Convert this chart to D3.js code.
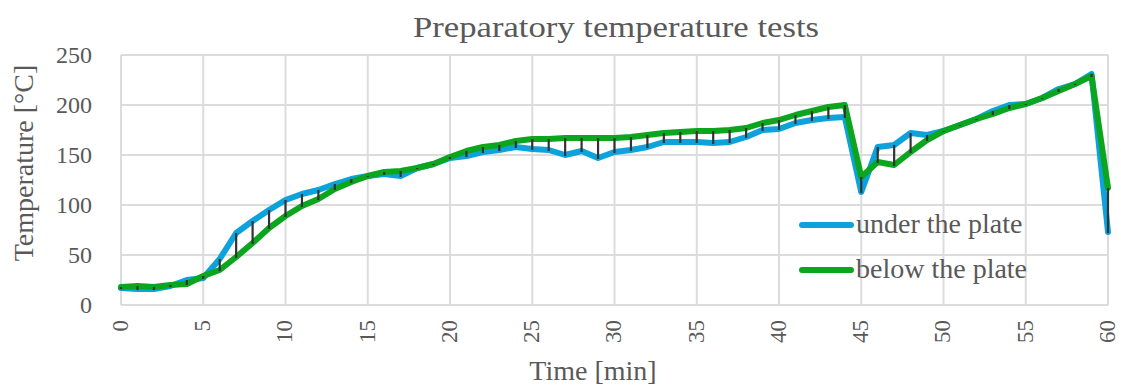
<!DOCTYPE html>
<html>
<head>
<meta charset="utf-8">
<script src="https://cdn.jsdelivr.net/npm/d3@7"></script>
<style>
  body { margin: 0; background: #fff; }
  svg text { font-family: "Liberation Serif", "Times New Roman", serif; fill: #595959; }
</style>
</head>
<body>
<svg id="chart" width="1121" height="392"></svg>
<script>
// minutes 0..60
const minutes = d3.range(0, 61);
const underPlate = [17,16,16,19,25,27,46,72,84,95,105,111,115,121,126,129,131,129,137,141,
  147,149,153,155,158,156,155,150,154,147,153,155,158,163,163,163,162,163,168,175,
  176,182,185,187,188,113,158,160,172,170,174,180,186,194,200,201,207,216,221,231,73];
const belowPlate = [18,19,18,20,21,29,35,48,62,77,89,99,106,116,123,129,133,134,137,141,
  148,154,158,160,164,166,166,167,167,167,167,168,170,172,173,174,174,175,177,182,
  185,190,194,198,200,128,143,140,153,165,174,180,186,191,197,201,207,214,221,229,117];
const xTicks = d3.range(0, 61, 5);
const yTicks = [0, 50, 100, 150, 200, 250];
const seriesNames = ["under the plate", "below the plate"];
const seriesColors = ["#0ca3dc", "#0ba61e"];

const svg = d3.select("#chart");
const x = d3.scaleLinear().domain([0, 60]).range([121, 1108]);
const y = d3.scaleLinear().domain([0, 250]).range([305, 55]);

// grid
svg.append("g").selectAll("line")
  .data(yTicks).enter().append("line")
  .attr("x1", x(0)).attr("x2", x(60))
  .attr("y1", d => y(d)).attr("y2", d => y(d))
  .attr("stroke", "#dcdcdc").attr("stroke-width", 2);
svg.append("g").selectAll("line")
  .data(xTicks).enter().append("line")
  .attr("x1", d => x(d)).attr("x2", d => x(d))
  .attr("y1", y(0)).attr("y2", y(250))
  .attr("stroke", "#dcdcdc").attr("stroke-width", 2);

// y tick labels
svg.append("g").selectAll("text")
  .data(yTicks).enter().append("text")
  .attr("x", 92).attr("y", d => y(d)).attr("dy", "0.35em")
  .attr("text-anchor", "end").attr("font-size", 24)
  .text(d => d);

// x tick labels (rotated)
svg.append("g").selectAll("text")
  .data(xTicks).enter().append("text")
  .attr("transform", d => `translate(${x(d)},320) rotate(-90)`)
  .attr("dy", "0.3em").attr("text-anchor", "end").attr("font-size", 23)
  .text(d => d);

// series lines
const line = d3.line().x((d, i) => x(minutes[i])).y(d => y(d));
[underPlate, belowPlate].forEach((s, k) => {
  svg.append("path")
    .datum(s)
    .attr("d", line)
    .attr("fill", "none")
    .attr("stroke", seriesColors[k])
    .attr("stroke-width", 6)
    .attr("stroke-linejoin", "round")
    .attr("stroke-linecap", "round");
});

// high-low drop lines
svg.append("g").selectAll("line")
  .data(minutes).enter().append("line")
  .attr("x1", d => x(d)).attr("x2", d => x(d))
  .attr("y1", (d, i) => y(Math.max(underPlate[i], belowPlate[i])))
  .attr("y2", (d, i) => y(Math.min(underPlate[i], belowPlate[i])) + 1)
  .attr("stroke", "#333").attr("stroke-width", 2.2);

// legend
const legend = svg.append("g");
seriesNames.forEach((name, k) => {
  const ly = 225 + k * 45;
  legend.append("line")
    .attr("x1", 802).attr("x2", 851).attr("y1", ly).attr("y2", ly)
    .attr("stroke", seriesColors[k]).attr("stroke-width", 6)
    .attr("stroke-linecap", "round");
  legend.append("text")
    .attr("x", 856).attr("y", ly).attr("dy", "0.3em")
    .attr("font-size", 28).text(name);
});

// titles
svg.append("text")
  .attr("x", 616).attr("y", 37).attr("text-anchor", "middle")
  .attr("font-size", 30).attr("textLength", 406).attr("lengthAdjust", "spacingAndGlyphs")
  .text("Preparatory temperature tests");
svg.append("text")
  .attr("x", 593).attr("y", 380).attr("text-anchor", "middle")
  .attr("font-size", 28)
  .text("Time [min]");
svg.append("text")
  .attr("transform", "translate(23,163) rotate(-90)")
  .attr("dy", "0.35em").attr("text-anchor", "middle")
  .attr("font-size", 28)
  .text("Temperature [°C]");
</script>
</body>
</html>
